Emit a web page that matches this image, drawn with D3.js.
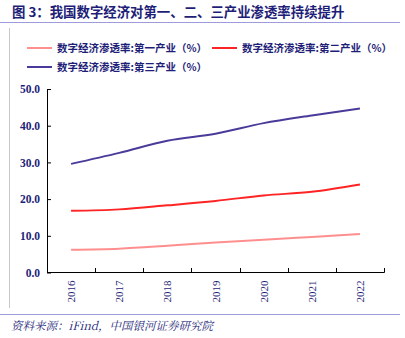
<!DOCTYPE html>
<html><head><meta charset="utf-8">
<script src="https://cdn.jsdelivr.net/npm/d3@7"></script>
<style>body{margin:0;background:#fff;}svg{display:block;}</style>
</head><body>
<script>
const years = ["2016","2017","2018","2019","2020","2021","2022"];
const primary = [6.2, 6.5, 7.3, 8.2, 8.9, 9.7, 10.5];
const secondary = [16.8, 17.2, 18.3, 19.5, 21.0, 22.0, 24.0];
const tertiary = [29.6, 32.6, 35.9, 37.8, 40.7, 42.8, 44.7];
const seriesNames = ["数字经济渗透率:第一产业（%）","数字经济渗透率:第二产业（%）","数字经济渗透率:第三产业（%）"];
const seriesColors = ["#ff8f8f","#ff2424","#4a3a9a"];
const yTicks = [0,10,20,30,40,50];
const title = "图 3：我国数字经济对第一、二、三产业渗透率持续提升";
const source = "资料来源：iFind，中国银河证券研究院";

const W=405,H=338;
const svg=d3.select("body").append("svg").attr("width",W).attr("height",H);
const navy="#1e1e78";

svg.append("text").attr("x",12).attr("y",17).text(title)
  .attr("font-family","Noto Sans CJK SC").attr("font-weight","bold").attr("font-size",13.4).attr("fill",navy);
svg.append("line").attr("x1",0).attr("x2",400).attr("y1",22.5).attr("y2",22.5).attr("stroke","#9d9bdc").attr("stroke-width",1);
svg.append("line").attr("x1",9.5).attr("x2",9.5).attr("y1",28).attr("y2",308).attr("stroke","#c8c8c8").attr("stroke-width",1);
svg.append("line").attr("x1",0).attr("x2",400).attr("y1",314.5).attr("y2",314.5).attr("stroke","#9d9bdc").attr("stroke-width",1);
svg.append("text").attr("x",11).attr("y",330).text(source)
  .attr("font-family","Noto Serif CJK SC, Noto Sans CJK SC").attr("font-style","italic").attr("font-size",11.5).attr("fill",navy);

const x=d3.scaleBand().domain(years).range([47,384]);
const y=d3.scaleLinear().domain([0,50]).range([272.5,89]);

const data=[primary,secondary,tertiary];
const line=d3.line().x((d,i)=>x(years[i])+x.bandwidth()/2).y(d=>y(d)).curve(d3.curveMonotoneX);
data.forEach((s,k)=>{
  svg.append("path").attr("d",line(s)).attr("fill","none").attr("stroke",seriesColors[k]).attr("stroke-width",2);
});

// y axis
const ya=svg.append("g").attr("transform","translate(47,0)")
  .call(d3.axisRight(y).tickValues(yTicks).tickSize(4).tickFormat(d3.format(".1f")));
ya.select(".domain").attr("stroke","#000").attr("d","M4,89.5H0.5V272.5");
ya.selectAll(".tick line").attr("stroke","#000");
ya.selectAll(".tick text").attr("x",-7).attr("text-anchor","end")
  .attr("font-family","Liberation Serif").attr("font-weight","bold").attr("font-size",11.5).attr("fill",navy);

// x axis
const xa=svg.append("g").attr("transform","translate(0,272.5)");
xa.append("line").attr("x1",47).attr("x2",384.5).attr("y1",0).attr("y2",0).attr("stroke","#000").attr("stroke-width",1.2);
const bounds=years.map(d=>x(d)).concat([x.range()[1]]).slice(1);
xa.selectAll(".xt").data(bounds).enter().append("line")
  .attr("x1",d=>Math.round(d)+0.5).attr("x2",d=>Math.round(d)+0.5).attr("y1",0).attr("y2",-4.5).attr("stroke","#000");
xa.selectAll(".xl").data(years).enter().append("text")
  .attr("transform",d=>`translate(${x(d)+x.bandwidth()/2+4},8) rotate(-90)`)
  .attr("text-anchor","end").text(d=>d)
  .attr("font-family","Liberation Serif").attr("font-size",11).attr("fill",navy);

// legend
const leg=[{x:27,y:48},{x:212,y:48},{x:27,y:67}];
leg.forEach((p,k)=>{
  svg.append("line").attr("x1",p.x).attr("x2",p.x+25).attr("y1",p.y).attr("y2",p.y).attr("stroke",seriesColors[k]).attr("stroke-width",2);
  svg.append("text").attr("x",p.x+30).attr("y",p.y+4).text(seriesNames[k])
    .attr("font-family","Noto Sans CJK SC").attr("font-weight","bold").attr("font-size",10.5).attr("fill",navy);
});
</script>
</body></html>
